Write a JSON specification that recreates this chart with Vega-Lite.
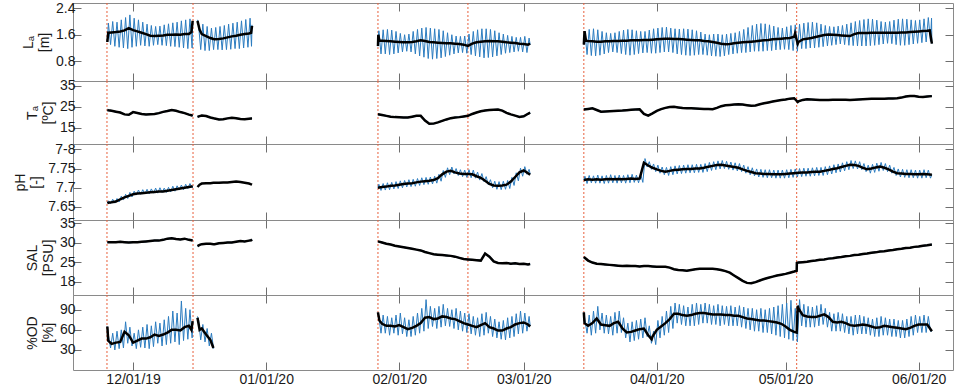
{
"$schema":"https://vega.github.io/schema/vega-lite/v6.json",
"padding":{"left":13,"top":0,"right":2,"bottom":5},
"spacing":0,
"bounds":"flush",
"config":{
 "font":"Liberation Sans",
 "view":{"stroke":"#8a8a8a","strokeWidth":1},
 "mark":{"invalid":"filter"},
 "axis":{"domain":false,"grid":false,"tickColor":"#6e6e6e","tickSize":-8,"labelFont":"Liberation Sans","labelFontSize":14,"labelColor":"#1a1a1a","labelPadding":6,"titleFont":"Liberation Sans","titleFontSize":14,"titleFontWeight":"normal","titleColor":"#1a1a1a"}
},
"datasets":{
"ev":[{"t":"2019-11-24T22:00"},{"t":"2019-12-14T23:00"},{"t":"2020-01-27T01:00"},{"t":"2020-02-17T00:00"},{"t":"2020-03-15T00:00"},{"t":"2020-05-03T14:00"}],
"sm":[
{"t":"2019-11-25T00:00","s":"A","L":1.38,"T":23.4,"p":7.660,"S":30.1,"O":65},
{"t":"2019-11-25T05:00","s":"A","L":1.66,"T":23.3,"p":7.661,"S":30.1,"O":44},
{"t":"2019-11-26T00:00","s":"A","L":1.67,"T":23.0,"p":7.662,"S":30.1,"O":39},
{"t":"2019-11-27T00:00","s":"A","L":1.68,"T":22.6,"p":7.664,"S":30.1,"O":41},
{"t":"2019-11-28T00:00","s":"A","L":1.70,"T":22.2,"p":7.670,"S":30.2,"O":42},
{"t":"2019-11-29T00:00","s":"A","L":1.73,"T":21.3,"p":7.675,"S":30.1,"O":57},
{"t":"2019-11-30T00:00","s":"A","L":1.80,"T":21.1,"p":7.679,"S":30.0,"O":52},
{"t":"2019-12-01T00:00","s":"A","L":1.74,"T":22.4,"p":7.683,"S":30.1,"O":41},
{"t":"2019-12-02T00:00","s":"A","L":1.70,"T":22.0,"p":7.685,"S":30.1,"O":44},
{"t":"2019-12-03T00:00","s":"A","L":1.66,"T":21.5,"p":7.686,"S":30.2,"O":47},
{"t":"2019-12-04T00:00","s":"A","L":1.62,"T":21.3,"p":7.687,"S":30.3,"O":47},
{"t":"2019-12-05T00:00","s":"A","L":1.57,"T":21.4,"p":7.688,"S":30.4,"O":49},
{"t":"2019-12-06T00:00","s":"A","L":1.56,"T":21.5,"p":7.689,"S":30.5,"O":53},
{"t":"2019-12-07T00:00","s":"A","L":1.57,"T":21.9,"p":7.690,"S":30.5,"O":51},
{"t":"2019-12-08T00:00","s":"A","L":1.58,"T":22.5,"p":7.690,"S":30.7,"O":53},
{"t":"2019-12-09T00:00","s":"A","L":1.60,"T":22.9,"p":7.692,"S":31.0,"O":56},
{"t":"2019-12-10T00:00","s":"A","L":1.60,"T":23.4,"p":7.694,"S":31.1,"O":60},
{"t":"2019-12-11T00:00","s":"A","L":1.61,"T":23.0,"p":7.696,"S":30.9,"O":60},
{"t":"2019-12-12T00:00","s":"A","L":1.60,"T":22.4,"p":7.698,"S":30.8,"O":59},
{"t":"2019-12-13T00:00","s":"A","L":1.62,"T":21.9,"p":7.700,"S":31.0,"O":64},
{"t":"2019-12-14T00:00","s":"A","L":1.62,"T":21.2,"p":7.702,"S":30.7,"O":66},
{"t":"2019-12-14T14:00","s":"A","L":1.68,"T":20.9,"p":7.703,"S":30.6,"O":60},
{"t":"2019-12-14T21:00","s":"A","L":2.02,"T":20.6,"p":7.704,"S":30.5,"O":73},
{"t":"2019-12-16T00:00","s":"B","L":2.02,"T":20.1,"p":7.702,"S":29.1,"O":78},
{"t":"2019-12-16T12:00","s":"B","L":1.75,"T":20.5,"p":7.708,"S":29.4,"O":60},
{"t":"2019-12-17T00:00","s":"B","L":1.62,"T":20.8,"p":7.711,"S":29.6,"O":62},
{"t":"2019-12-18T00:00","s":"B","L":1.56,"T":20.5,"p":7.712,"S":29.7,"O":53},
{"t":"2019-12-19T00:00","s":"B","L":1.50,"T":19.8,"p":7.712,"S":29.7,"O":45},
{"t":"2019-12-19T17:00","s":"B","L":1.47,"T":19.5,"p":7.713,"S":29.6,"O":33},
{"t":"2019-12-20T00:00","s":"B","L":1.46,"T":19.3,"p":7.713,"S":29.6},
{"t":"2019-12-21T00:00","s":"B","L":1.47,"T":18.9,"p":7.713,"S":29.8},
{"t":"2019-12-22T00:00","s":"B","L":1.49,"T":19.0,"p":7.714,"S":29.9},
{"t":"2019-12-23T00:00","s":"B","L":1.52,"T":19.4,"p":7.714,"S":30.0},
{"t":"2019-12-24T00:00","s":"B","L":1.55,"T":19.7,"p":7.715,"S":30.0},
{"t":"2019-12-25T00:00","s":"B","L":1.57,"T":19.5,"p":7.716,"S":30.2},
{"t":"2019-12-26T00:00","s":"B","L":1.60,"T":19.1,"p":7.715,"S":30.4},
{"t":"2019-12-27T00:00","s":"B","L":1.62,"T":19.0,"p":7.713,"S":30.3},
{"t":"2019-12-28T00:00","s":"B","L":1.64,"T":19.2,"p":7.711,"S":30.5},
{"t":"2019-12-28T12:00","s":"B","L":1.66,"T":19.3,"p":7.709,"S":30.6},
{"t":"2019-12-28T17:00","s":"B","L":1.87,"T":19.3,"p":7.708,"S":30.8},
{"t":"2020-01-27T01:00","s":"C","L":1.26,"T":21.4,"p":7.700,"S":30.3,"O":86},
{"t":"2020-01-27T03:00","s":"C","L":1.60},
{"t":"2020-01-27T09:00","s":"C","L":1.42,"O":74},
{"t":"2020-01-28T00:00","s":"C","L":1.42,"T":21.0,"p":7.702,"S":30.0,"O":69},
{"t":"2020-01-29T00:00","s":"C","L":1.41,"T":20.6,"p":7.703,"S":29.7,"O":66},
{"t":"2020-01-30T00:00","s":"C","L":1.40,"T":20.2,"p":7.705,"S":29.5,"O":66},
{"t":"2020-01-31T00:00","s":"C","L":1.39,"T":20.0,"p":7.706,"S":29.2,"O":65},
{"t":"2020-02-01T00:00","s":"C","L":1.38,"T":19.9,"p":7.708,"S":29.0,"O":67},
{"t":"2020-02-02T00:00","s":"C","L":1.37,"T":19.8,"p":7.710,"S":28.8,"O":64},
{"t":"2020-02-03T00:00","s":"C","L":1.37,"T":19.8,"p":7.711,"S":28.6,"O":61},
{"t":"2020-02-04T00:00","s":"C","L":1.38,"T":20.2,"p":7.712,"S":28.4,"O":63},
{"t":"2020-02-05T00:00","s":"C","L":1.40,"T":20.6,"p":7.714,"S":28.2,"O":66},
{"t":"2020-02-06T00:00","s":"C","L":1.43,"T":20.6,"p":7.716,"S":28.0,"O":70},
{"t":"2020-02-07T00:00","s":"C","L":1.41,"T":18.4,"p":7.717,"S":27.6,"O":78},
{"t":"2020-02-08T00:00","s":"C","L":1.38,"T":16.8,"p":7.718,"S":27.3,"O":79},
{"t":"2020-02-09T00:00","s":"C","L":1.37,"T":16.9,"p":7.720,"S":27.0,"O":76},
{"t":"2020-02-10T00:00","s":"C","L":1.36,"T":17.5,"p":7.725,"S":26.9,"O":77},
{"t":"2020-02-11T00:00","s":"C","L":1.35,"T":18.2,"p":7.735,"S":26.8,"O":80},
{"t":"2020-02-12T00:00","s":"C","L":1.34,"T":18.9,"p":7.742,"S":26.7,"O":79},
{"t":"2020-02-13T00:00","s":"C","L":1.34,"T":19.5,"p":7.744,"S":26.6,"O":77},
{"t":"2020-02-14T00:00","s":"C","L":1.33,"T":19.8,"p":7.740,"S":26.4,"O":76},
{"t":"2020-02-15T00:00","s":"C","L":1.32,"T":20.0,"p":7.737,"S":26.1,"O":73},
{"t":"2020-02-16T00:00","s":"C","L":1.30,"T":20.3,"p":7.736,"S":25.8,"O":70},
{"t":"2020-02-17T00:00","s":"C","L":1.26,"T":20.6,"p":7.736,"S":25.7,"O":68},
{"t":"2020-02-18T00:00","s":"C","L":1.33,"T":21.5,"p":7.735,"S":25.6,"O":66},
{"t":"2020-02-19T00:00","s":"C","L":1.37,"T":22.2,"p":7.730,"S":25.5,"O":64},
{"t":"2020-02-20T00:00","s":"C","L":1.39,"T":22.8,"p":7.726,"S":25.4,"O":67},
{"t":"2020-02-21T00:00","s":"C","L":1.40,"T":23.2,"p":7.718,"S":27.2,"O":70},
{"t":"2020-02-22T00:00","s":"C","L":1.41,"T":23.4,"p":7.710,"S":26.4,"O":64},
{"t":"2020-02-23T00:00","s":"C","L":1.40,"T":23.5,"p":7.706,"S":25.2,"O":62},
{"t":"2020-02-24T00:00","s":"C","L":1.40,"T":23.6,"p":7.705,"S":24.8,"O":59},
{"t":"2020-02-25T00:00","s":"C","L":1.39,"T":23.1,"p":7.706,"S":24.7,"O":59},
{"t":"2020-02-26T00:00","s":"C","L":1.37,"T":22.0,"p":7.708,"S":24.8,"O":62},
{"t":"2020-02-27T00:00","s":"C","L":1.36,"T":21.3,"p":7.716,"S":24.6,"O":64},
{"t":"2020-02-28T00:00","s":"C","L":1.35,"T":20.7,"p":7.728,"S":24.7,"O":68},
{"t":"2020-02-29T00:00","s":"C","L":1.33,"T":20.1,"p":7.740,"S":24.5,"O":70},
{"t":"2020-03-01T00:00","s":"C","L":1.32,"T":20.4,"p":7.745,"S":24.6,"O":71},
{"t":"2020-03-02T00:00","s":"C","L":1.30,"T":21.6,"p":7.738,"S":24.4,"O":68},
{"t":"2020-03-02T12:00","s":"C","L":1.33,"T":22.1,"p":7.734,"S":24.5,"O":65},
{"t":"2020-03-15T00:00","s":"D","L":1.30,"T":23.6,"p":7.720,"S":26.3,"O":86},
{"t":"2020-03-15T04:00","s":"D","L":1.71,"O":70},
{"t":"2020-03-15T12:00","s":"D","L":1.42},
{"t":"2020-03-16T00:00","s":"D","L":1.41,"T":23.9,"p":7.722,"S":25.4,"O":66},
{"t":"2020-03-17T00:00","s":"D","L":1.40,"T":24.2,"p":7.721,"S":24.9,"O":70},
{"t":"2020-03-18T00:00","s":"D","L":1.39,"T":23.4,"p":7.722,"S":24.6,"O":77},
{"t":"2020-03-19T00:00","s":"D","L":1.39,"T":22.6,"p":7.721,"S":24.5,"O":68},
{"t":"2020-03-20T00:00","s":"D","L":1.40,"T":22.7,"p":7.722,"S":24.4,"O":67},
{"t":"2020-03-21T00:00","s":"D","L":1.40,"T":22.8,"p":7.723,"S":24.3,"O":66},
{"t":"2020-03-22T00:00","s":"D","L":1.41,"T":22.9,"p":7.722,"S":24.2,"O":70},
{"t":"2020-03-23T00:00","s":"D","L":1.41,"T":23.0,"p":7.723,"S":24.1,"O":72},
{"t":"2020-03-24T00:00","s":"D","L":1.42,"T":23.1,"p":7.722,"S":24.0,"O":62},
{"t":"2020-03-25T00:00","s":"D","L":1.42,"T":23.3,"p":7.723,"S":24.1,"O":56},
{"t":"2020-03-26T00:00","s":"D","L":1.43,"T":23.5,"p":7.724,"S":24.0,"O":57},
{"t":"2020-03-27T00:00","s":"D","L":1.43,"T":23.6,"p":7.723,"S":24.0,"O":59},
{"t":"2020-03-28T00:00","s":"D","L":1.43,"T":23.7,"p":7.724,"S":23.9,"O":61},
{"t":"2020-03-29T00:00","s":"D","L":1.44,"T":21.5,"p":7.765,"S":24.0,"O":62},
{"t":"2020-03-30T00:00","s":"D","L":1.44,"T":20.7,"p":7.758,"S":24.0,"O":52},
{"t":"2020-03-30T19:00","s":"D","O":46},
{"t":"2020-03-31T00:00","s":"D","L":1.45,"T":21.8,"p":7.752,"S":23.9,"O":50},
{"t":"2020-04-01T00:00","s":"D","L":1.46,"T":23.0,"p":7.748,"S":23.8,"O":60},
{"t":"2020-04-02T00:00","s":"D","L":1.47,"T":23.8,"p":7.744,"S":23.8,"O":65},
{"t":"2020-04-03T00:00","s":"D","L":1.48,"T":24.4,"p":7.742,"S":23.8,"O":70},
{"t":"2020-04-04T00:00","s":"D","L":1.48,"T":24.8,"p":7.744,"S":23.6,"O":76},
{"t":"2020-04-05T00:00","s":"D","L":1.47,"T":24.9,"p":7.746,"S":23.2,"O":84},
{"t":"2020-04-06T00:00","s":"D","L":1.47,"T":24.6,"p":7.747,"S":23.0,"O":84},
{"t":"2020-04-07T00:00","s":"D","L":1.46,"T":24.3,"p":7.748,"S":22.9,"O":82},
{"t":"2020-04-08T00:00","s":"D","L":1.45,"T":24.2,"p":7.749,"S":22.8,"O":81},
{"t":"2020-04-09T00:00","s":"D","L":1.44,"T":24.2,"p":7.749,"S":23.0,"O":82},
{"t":"2020-04-10T00:00","s":"D","L":1.43,"T":24.1,"p":7.750,"S":23.2,"O":84},
{"t":"2020-04-11T00:00","s":"D","L":1.43,"T":24.0,"p":7.750,"S":23.3,"O":85},
{"t":"2020-04-12T00:00","s":"D","L":1.41,"T":23.9,"p":7.752,"S":23.3,"O":85},
{"t":"2020-04-13T00:00","s":"D","L":1.40,"T":23.9,"p":7.755,"S":23.3,"O":84},
{"t":"2020-04-14T00:00","s":"D","L":1.38,"T":23.8,"p":7.757,"S":23.3,"O":83},
{"t":"2020-04-15T00:00","s":"D","L":1.36,"T":24.4,"p":7.759,"S":23.2,"O":83},
{"t":"2020-04-16T00:00","s":"D","L":1.33,"T":25.2,"p":7.760,"S":23.0,"O":83},
{"t":"2020-04-17T00:00","s":"D","L":1.31,"T":25.6,"p":7.758,"S":22.7,"O":82},
{"t":"2020-04-18T00:00","s":"D","L":1.32,"T":25.8,"p":7.756,"S":22.3,"O":82},
{"t":"2020-04-19T00:00","s":"D","L":1.34,"T":26.0,"p":7.754,"S":21.6,"O":81},
{"t":"2020-04-20T00:00","s":"D","L":1.36,"T":26.1,"p":7.752,"S":20.9,"O":81},
{"t":"2020-04-21T00:00","s":"D","L":1.37,"T":26.0,"p":7.748,"S":20.2,"O":79},
{"t":"2020-04-22T00:00","s":"D","L":1.38,"T":25.7,"p":7.744,"S":19.7,"O":77},
{"t":"2020-04-23T00:00","s":"D","L":1.39,"T":25.4,"p":7.741,"S":19.6,"O":76},
{"t":"2020-04-24T00:00","s":"D","L":1.40,"T":25.5,"p":7.738,"S":19.9,"O":75},
{"t":"2020-04-25T00:00","s":"D","L":1.42,"T":26.1,"p":7.737,"S":20.3,"O":74},
{"t":"2020-04-26T00:00","s":"D","L":1.43,"T":26.6,"p":7.736,"S":20.7,"O":74},
{"t":"2020-04-27T00:00","s":"D","L":1.44,"T":27.0,"p":7.736,"S":21.0,"O":73},
{"t":"2020-04-28T00:00","s":"D","L":1.46,"T":27.4,"p":7.735,"S":21.3,"O":72},
{"t":"2020-04-29T00:00","s":"D","L":1.47,"T":27.8,"p":7.735,"S":21.6,"O":71},
{"t":"2020-04-30T00:00","s":"D","L":1.48,"T":28.1,"p":7.735,"S":21.8,"O":69},
{"t":"2020-05-01T00:00","s":"D","L":1.49,"T":28.4,"p":7.736,"S":22.0,"O":65},
{"t":"2020-05-02T00:00","s":"D","L":1.50,"T":28.8,"p":7.737,"S":22.3,"O":60},
{"t":"2020-05-03T00:00","s":"D","L":1.54,"T":29.0,"p":7.738,"S":22.6,"O":57},
{"t":"2020-05-03T05:00","s":"D","L":1.64},
{"t":"2020-05-03T14:00","s":"D","L":1.45,"S":22.8,"O":56},
{"t":"2020-05-03T15:00","s":"D","S":24.8},
{"t":"2020-05-03T20:00","s":"D","L":1.33,"T":27.2,"O":96},
{"t":"2020-05-04T00:00","s":"D","L":1.38,"T":27.5,"p":7.739,"S":24.9,"O":92},
{"t":"2020-05-05T00:00","s":"D","L":1.46,"T":28.2,"p":7.740,"S":25.0,"O":82},
{"t":"2020-05-06T00:00","s":"D","L":1.48,"T":28.5,"p":7.740,"S":25.1,"O":80},
{"t":"2020-05-07T00:00","s":"D","L":1.50,"T":28.4,"p":7.741,"S":25.3,"O":79},
{"t":"2020-05-08T00:00","s":"D","L":1.53,"T":28.3,"p":7.742,"S":25.4,"O":79},
{"t":"2020-05-09T00:00","s":"D","L":1.56,"T":28.2,"p":7.742,"S":25.6,"O":81},
{"t":"2020-05-10T00:00","s":"D","L":1.59,"T":28.2,"p":7.744,"S":25.7,"O":83},
{"t":"2020-05-11T00:00","s":"D","L":1.61,"T":28.2,"p":7.746,"S":25.9,"O":79},
{"t":"2020-05-12T00:00","s":"D","L":1.60,"T":28.3,"p":7.749,"S":26.0,"O":72},
{"t":"2020-05-13T00:00","s":"D","L":1.59,"T":28.3,"p":7.751,"S":26.2,"O":71},
{"t":"2020-05-14T00:00","s":"D","L":1.58,"T":28.3,"p":7.754,"S":26.3,"O":72},
{"t":"2020-05-15T00:00","s":"D","L":1.57,"T":28.3,"p":7.757,"S":26.5,"O":70},
{"t":"2020-05-16T00:00","s":"D","L":1.56,"T":28.2,"p":7.760,"S":26.6,"O":67},
{"t":"2020-05-17T00:00","s":"D","L":1.62,"T":28.3,"p":7.759,"S":26.8,"O":66},
{"t":"2020-05-18T00:00","s":"D","L":1.65,"T":28.4,"p":7.757,"S":26.9,"O":67},
{"t":"2020-05-19T00:00","s":"D","L":1.65,"T":28.5,"p":7.752,"S":27.1,"O":68},
{"t":"2020-05-20T00:00","s":"D","L":1.65,"T":28.6,"p":7.748,"S":27.2,"O":67},
{"t":"2020-05-21T00:00","s":"D","L":1.66,"T":28.7,"p":7.750,"S":27.4,"O":65},
{"t":"2020-05-22T00:00","s":"D","L":1.66,"T":28.7,"p":7.753,"S":27.5,"O":63},
{"t":"2020-05-23T00:00","s":"D","L":1.66,"T":28.8,"p":7.755,"S":27.7,"O":64},
{"t":"2020-05-24T00:00","s":"D","L":1.66,"T":28.8,"p":7.752,"S":27.8,"O":66},
{"t":"2020-05-25T00:00","s":"D","L":1.66,"T":28.9,"p":7.748,"S":28.0,"O":65},
{"t":"2020-05-26T00:00","s":"D","L":1.66,"T":28.9,"p":7.742,"S":28.1,"O":64},
{"t":"2020-05-27T00:00","s":"D","L":1.66,"T":29.0,"p":7.738,"S":28.3,"O":63},
{"t":"2020-05-28T00:00","s":"D","L":1.67,"T":29.3,"p":7.737,"S":28.4,"O":62},
{"t":"2020-05-29T00:00","s":"D","L":1.67,"T":29.8,"p":7.736,"S":28.6,"O":61},
{"t":"2020-05-30T00:00","s":"D","L":1.68,"T":30.1,"p":7.736,"S":28.7,"O":63},
{"t":"2020-05-31T00:00","s":"D","L":1.69,"T":30.0,"p":7.735,"S":28.9,"O":66},
{"t":"2020-06-01T00:00","s":"D","L":1.70,"T":29.7,"p":7.735,"S":29.0,"O":68},
{"t":"2020-06-02T00:00","s":"D","L":1.71,"T":29.6,"p":7.736,"S":29.2,"O":68},
{"t":"2020-06-03T00:00","s":"D","L":1.72,"T":29.8,"p":7.735,"S":29.3,"O":68},
{"t":"2020-06-03T14:00","s":"D","L":1.73},
{"t":"2020-06-04T02:00","s":"D","L":1.33,"T":30.0,"p":7.734,"S":29.5,"O":58}
],
"raw":[
{"t":"2019-11-25T00:00","s":"A","L":1.40,"p":7.660,"O":65},
{"t":"2019-11-25T06:00","s":"A","L":1.95,"p":7.666,"O":52},{"t":"2019-11-25T18:00","s":"A","L":1.30,"p":7.659,"O":33},
{"t":"2019-11-26T06:00","s":"A","L":2.00,"p":7.670,"O":55},{"t":"2019-11-26T18:00","s":"A","L":1.25,"p":7.660,"O":30},
{"t":"2019-11-27T06:00","s":"A","L":1.98,"p":7.672,"O":58},{"t":"2019-11-27T18:00","s":"A","L":1.22,"p":7.663,"O":32},
{"t":"2019-11-28T06:00","s":"A","L":2.05,"p":7.678,"O":60},{"t":"2019-11-28T18:00","s":"A","L":1.20,"p":7.668,"O":33},
{"t":"2019-11-29T06:00","s":"A","L":2.12,"p":7.683,"O":72},{"t":"2019-11-29T18:00","s":"A","L":1.18,"p":7.672,"O":40},
{"t":"2019-11-30T06:00","s":"A","L":2.20,"p":7.688,"O":64},{"t":"2019-11-30T18:00","s":"A","L":1.22,"p":7.676,"O":36},
{"t":"2019-12-01T06:00","s":"A","L":2.10,"p":7.691,"O":55},{"t":"2019-12-01T18:00","s":"A","L":1.25,"p":7.681,"O":32},
{"t":"2019-12-02T06:00","s":"A","L":2.05,"p":7.694,"O":60},{"t":"2019-12-02T18:00","s":"A","L":1.28,"p":7.683,"O":34},
{"t":"2019-12-03T06:00","s":"A","L":1.98,"p":7.695,"O":64},{"t":"2019-12-03T18:00","s":"A","L":1.26,"p":7.684,"O":33},
{"t":"2019-12-04T06:00","s":"A","L":1.92,"p":7.696,"O":68},{"t":"2019-12-04T18:00","s":"A","L":1.25,"p":7.684,"O":32},
{"t":"2019-12-05T06:00","s":"A","L":1.88,"p":7.697,"O":66},{"t":"2019-12-05T18:00","s":"A","L":1.28,"p":7.686,"O":35},
{"t":"2019-12-06T06:00","s":"A","L":1.85,"p":7.699,"O":72},{"t":"2019-12-06T18:00","s":"A","L":1.30,"p":7.686,"O":40},
{"t":"2019-12-07T06:00","s":"A","L":1.86,"p":7.700,"O":70},{"t":"2019-12-07T18:00","s":"A","L":1.28,"p":7.688,"O":36},
{"t":"2019-12-08T06:00","s":"A","L":1.90,"p":7.699,"O":75},{"t":"2019-12-08T18:00","s":"A","L":1.27,"p":7.688,"O":38},
{"t":"2019-12-09T06:00","s":"A","L":1.93,"p":7.701,"O":80},{"t":"2019-12-09T18:00","s":"A","L":1.25,"p":7.689,"O":40},
{"t":"2019-12-10T06:00","s":"A","L":1.96,"p":7.704,"O":88},{"t":"2019-12-10T18:00","s":"A","L":1.24,"p":7.691,"O":42},
{"t":"2019-12-11T06:00","s":"A","L":1.98,"p":7.705,"O":85},{"t":"2019-12-11T18:00","s":"A","L":1.22,"p":7.694,"O":38},
{"t":"2019-12-12T06:00","s":"A","L":2.02,"p":7.707,"O":103},{"t":"2019-12-12T18:00","s":"A","L":1.20,"p":7.695,"O":44},
{"t":"2019-12-13T06:00","s":"A","L":2.05,"p":7.709,"O":92},{"t":"2019-12-13T18:00","s":"A","L":1.18,"p":7.698,"O":46},
{"t":"2019-12-14T06:00","s":"A","L":2.08,"p":7.711,"O":90},{"t":"2019-12-14T18:00","s":"A","L":1.20,"p":7.700,"O":48},
{"t":"2019-12-14T21:00","s":"A","L":2.00,"p":7.705,"O":72},
{"t":"2019-12-16T00:00","s":"B","L":2.05,"O":80},
{"t":"2019-12-16T06:00","s":"B","L":1.90,"O":75},{"t":"2019-12-16T18:00","s":"B","L":1.15,"O":45},
{"t":"2019-12-17T06:00","s":"B","L":1.92,"O":68},{"t":"2019-12-17T18:00","s":"B","L":1.12,"O":42},
{"t":"2019-12-18T06:00","s":"B","L":1.85,"O":62},{"t":"2019-12-18T18:00","s":"B","L":1.12,"O":36},
{"t":"2019-12-19T06:00","s":"B","L":1.80,"O":55},{"t":"2019-12-19T18:00","s":"B","L":1.15,"O":32},
{"t":"2019-12-20T06:00","s":"B","L":1.82},{"t":"2019-12-20T18:00","s":"B","L":1.15},
{"t":"2019-12-21T06:00","s":"B","L":1.85},{"t":"2019-12-21T18:00","s":"B","L":1.14},
{"t":"2019-12-22T06:00","s":"B","L":1.88},{"t":"2019-12-22T18:00","s":"B","L":1.15},
{"t":"2019-12-23T06:00","s":"B","L":1.92},{"t":"2019-12-23T18:00","s":"B","L":1.16},
{"t":"2019-12-24T06:00","s":"B","L":1.95},{"t":"2019-12-24T18:00","s":"B","L":1.18},
{"t":"2019-12-25T06:00","s":"B","L":1.98},{"t":"2019-12-25T18:00","s":"B","L":1.18},
{"t":"2019-12-26T06:00","s":"B","L":2.02},{"t":"2019-12-26T18:00","s":"B","L":1.20},
{"t":"2019-12-27T06:00","s":"B","L":2.06},{"t":"2019-12-27T18:00","s":"B","L":1.22},
{"t":"2019-12-28T06:00","s":"B","L":2.10},{"t":"2019-12-28T14:00","s":"B","L":1.25},{"t":"2019-12-28T17:00","s":"B","L":1.90},
{"t":"2020-01-27T01:00","s":"C","L":1.25,"p":7.700,"O":86},
{"t":"2020-01-27T06:00","s":"C","L":1.72,"p":7.709,"O":80},{"t":"2020-01-27T18:00","s":"C","L":1.02,"p":7.693,"O":55},
{"t":"2020-01-28T06:00","s":"C","L":1.75,"p":7.711,"O":82},{"t":"2020-01-28T18:00","s":"C","L":1.02,"p":7.694,"O":55},
{"t":"2020-01-29T06:00","s":"C","L":1.76,"p":7.713,"O":80},{"t":"2020-01-29T18:00","s":"C","L":1.00,"p":7.695,"O":52},
{"t":"2020-01-30T06:00","s":"C","L":1.74,"p":7.714,"O":78},{"t":"2020-01-30T18:00","s":"C","L":1.02,"p":7.697,"O":55},
{"t":"2020-01-31T06:00","s":"C","L":1.70,"p":7.716,"O":82},{"t":"2020-01-31T18:00","s":"C","L":1.05,"p":7.698,"O":52},
{"t":"2020-02-01T06:00","s":"C","L":1.64,"p":7.718,"O":85},{"t":"2020-02-01T18:00","s":"C","L":1.08,"p":7.700,"O":54},
{"t":"2020-02-02T06:00","s":"C","L":1.60,"p":7.719,"O":78},{"t":"2020-02-02T18:00","s":"C","L":1.10,"p":7.702,"O":50},
{"t":"2020-02-03T06:00","s":"C","L":1.62,"p":7.721,"O":75},{"t":"2020-02-03T18:00","s":"C","L":1.08,"p":7.703,"O":50},
{"t":"2020-02-04T06:00","s":"C","L":1.70,"p":7.722,"O":80},{"t":"2020-02-04T18:00","s":"C","L":1.02,"p":7.704,"O":52},
{"t":"2020-02-05T06:00","s":"C","L":1.76,"p":7.724,"O":85},{"t":"2020-02-05T18:00","s":"C","L":0.96,"p":7.706,"O":55},
{"t":"2020-02-06T06:00","s":"C","L":1.80,"p":7.726,"O":92},{"t":"2020-02-06T18:00","s":"C","L":0.92,"p":7.708,"O":58},
{"t":"2020-02-07T06:00","s":"C","L":1.82,"p":7.727,"O":105},{"t":"2020-02-07T18:00","s":"C","L":0.88,"p":7.709,"O":62},
{"t":"2020-02-08T06:00","s":"C","L":1.80,"p":7.728,"O":95},{"t":"2020-02-08T18:00","s":"C","L":0.86,"p":7.710,"O":65},
{"t":"2020-02-09T06:00","s":"C","L":1.78,"p":7.730,"O":92},{"t":"2020-02-09T18:00","s":"C","L":0.88,"p":7.712,"O":62},
{"t":"2020-02-10T06:00","s":"C","L":1.76,"p":7.735,"O":95},{"t":"2020-02-10T18:00","s":"C","L":0.90,"p":7.717,"O":64},
{"t":"2020-02-11T06:00","s":"C","L":1.72,"p":7.745,"O":98},{"t":"2020-02-11T18:00","s":"C","L":0.94,"p":7.727,"O":66},
{"t":"2020-02-12T06:00","s":"C","L":1.66,"p":7.752,"O":92},{"t":"2020-02-12T18:00","s":"C","L":0.98,"p":7.734,"O":65},
{"t":"2020-02-13T06:00","s":"C","L":1.60,"p":7.754,"O":90},{"t":"2020-02-13T18:00","s":"C","L":1.02,"p":7.736,"O":62},
{"t":"2020-02-14T06:00","s":"C","L":1.56,"p":7.750,"O":92},{"t":"2020-02-14T18:00","s":"C","L":1.05,"p":7.732,"O":60},
{"t":"2020-02-15T06:00","s":"C","L":1.55,"p":7.747,"O":88},{"t":"2020-02-15T18:00","s":"C","L":1.06,"p":7.729,"O":58},
{"t":"2020-02-16T06:00","s":"C","L":1.56,"p":7.746,"O":85},{"t":"2020-02-16T18:00","s":"C","L":1.04,"p":7.727,"O":56},
{"t":"2020-02-17T06:00","s":"C","L":1.62,"p":7.747,"O":84},{"t":"2020-02-17T18:00","s":"C","L":1.00,"p":7.726,"O":54},
{"t":"2020-02-18T06:00","s":"C","L":1.70,"p":7.746,"O":80},{"t":"2020-02-18T18:00","s":"C","L":0.96,"p":7.725,"O":52},
{"t":"2020-02-19T06:00","s":"C","L":1.75,"p":7.741,"O":78},{"t":"2020-02-19T18:00","s":"C","L":0.93,"p":7.720,"O":50},
{"t":"2020-02-20T06:00","s":"C","L":1.78,"p":7.737,"O":84},{"t":"2020-02-20T18:00","s":"C","L":0.90,"p":7.716,"O":52},
{"t":"2020-02-21T06:00","s":"C","L":1.78,"p":7.729,"O":86},{"t":"2020-02-21T18:00","s":"C","L":0.91,"p":7.708,"O":55},
{"t":"2020-02-22T06:00","s":"C","L":1.76,"p":7.721,"O":80},{"t":"2020-02-22T18:00","s":"C","L":0.93,"p":7.700,"O":50},
{"t":"2020-02-23T06:00","s":"C","L":1.72,"p":7.717,"O":76},{"t":"2020-02-23T18:00","s":"C","L":0.96,"p":7.696,"O":48},
{"t":"2020-02-24T06:00","s":"C","L":1.66,"p":7.716,"O":72},{"t":"2020-02-24T18:00","s":"C","L":1.00,"p":7.695,"O":46},
{"t":"2020-02-25T06:00","s":"C","L":1.62,"p":7.717,"O":74},{"t":"2020-02-25T18:00","s":"C","L":1.04,"p":7.696,"O":45},
{"t":"2020-02-26T06:00","s":"C","L":1.58,"p":7.719,"O":78},{"t":"2020-02-26T18:00","s":"C","L":1.06,"p":7.698,"O":48},
{"t":"2020-02-27T06:00","s":"C","L":1.55,"p":7.727,"O":80},{"t":"2020-02-27T18:00","s":"C","L":1.08,"p":7.706,"O":50},
{"t":"2020-02-28T06:00","s":"C","L":1.52,"p":7.739,"O":84},{"t":"2020-02-28T18:00","s":"C","L":1.10,"p":7.718,"O":54},
{"t":"2020-02-29T06:00","s":"C","L":1.52,"p":7.751,"O":88},{"t":"2020-02-29T18:00","s":"C","L":1.08,"p":7.730,"O":55},
{"t":"2020-03-01T06:00","s":"C","L":1.55,"p":7.755,"O":85},{"t":"2020-03-01T18:00","s":"C","L":1.06,"p":7.735,"O":58},
{"t":"2020-03-02T06:00","s":"C","L":1.50,"p":7.748,"O":80},{"t":"2020-03-02T12:00","s":"C","L":1.30,"p":7.736,"O":66},
{"t":"2020-03-15T00:00","s":"D","L":1.30,"p":7.720,"O":86},
{"t":"2020-03-15T06:00","s":"D","L":1.70,"p":7.730,"O":75},{"t":"2020-03-15T18:00","s":"D","L":1.00,"p":7.711,"O":55},
{"t":"2020-03-16T06:00","s":"D","L":1.76,"p":7.732,"O":82},{"t":"2020-03-16T18:00","s":"D","L":0.97,"p":7.713,"O":52},
{"t":"2020-03-17T06:00","s":"D","L":1.78,"p":7.731,"O":88},{"t":"2020-03-17T18:00","s":"D","L":0.96,"p":7.712,"O":55},
{"t":"2020-03-18T06:00","s":"D","L":1.75,"p":7.733,"O":95},{"t":"2020-03-18T18:00","s":"D","L":0.98,"p":7.712,"O":60},
{"t":"2020-03-19T06:00","s":"D","L":1.70,"p":7.731,"O":85},{"t":"2020-03-19T18:00","s":"D","L":1.02,"p":7.711,"O":55},
{"t":"2020-03-20T06:00","s":"D","L":1.66,"p":7.732,"O":82},{"t":"2020-03-20T18:00","s":"D","L":1.06,"p":7.712,"O":54},
{"t":"2020-03-21T06:00","s":"D","L":1.64,"p":7.734,"O":80},{"t":"2020-03-21T18:00","s":"D","L":1.08,"p":7.713,"O":52},
{"t":"2020-03-22T06:00","s":"D","L":1.66,"p":7.732,"O":86},{"t":"2020-03-22T18:00","s":"D","L":1.06,"p":7.712,"O":55},
{"t":"2020-03-23T06:00","s":"D","L":1.70,"p":7.733,"O":88},{"t":"2020-03-23T18:00","s":"D","L":1.03,"p":7.713,"O":56},
{"t":"2020-03-24T06:00","s":"D","L":1.74,"p":7.732,"O":78},{"t":"2020-03-24T18:00","s":"D","L":1.00,"p":7.712,"O":48},
{"t":"2020-03-25T06:00","s":"D","L":1.76,"p":7.734,"O":70},{"t":"2020-03-25T18:00","s":"D","L":0.98,"p":7.713,"O":42},
{"t":"2020-03-26T06:00","s":"D","L":1.75,"p":7.735,"O":72},{"t":"2020-03-26T18:00","s":"D","L":1.00,"p":7.714,"O":44},
{"t":"2020-03-27T06:00","s":"D","L":1.72,"p":7.733,"O":74},{"t":"2020-03-27T18:00","s":"D","L":1.03,"p":7.713,"O":46},
{"t":"2020-03-28T06:00","s":"D","L":1.70,"p":7.735,"O":76},{"t":"2020-03-28T18:00","s":"D","L":1.05,"p":7.714,"O":48},
{"t":"2020-03-29T06:00","s":"D","L":1.70,"p":7.776,"O":78},{"t":"2020-03-29T18:00","s":"D","L":1.06,"p":7.754,"O":50},
{"t":"2020-03-30T06:00","s":"D","L":1.74,"p":7.768,"O":66},{"t":"2020-03-30T18:00","s":"D","L":1.04,"p":7.748,"O":40},
{"t":"2020-03-31T06:00","s":"D","L":1.78,"p":7.762,"O":58},{"t":"2020-03-31T18:00","s":"D","L":1.04,"p":7.742,"O":38},
{"t":"2020-04-01T06:00","s":"D","L":1.80,"p":7.759,"O":74},{"t":"2020-04-01T18:00","s":"D","L":1.06,"p":7.738,"O":48},
{"t":"2020-04-02T06:00","s":"D","L":1.82,"p":7.754,"O":80},{"t":"2020-04-02T18:00","s":"D","L":1.08,"p":7.734,"O":52},
{"t":"2020-04-03T06:00","s":"D","L":1.83,"p":7.753,"O":88},{"t":"2020-04-03T18:00","s":"D","L":1.08,"p":7.732,"O":56},
{"t":"2020-04-04T06:00","s":"D","L":1.80,"p":7.755,"O":95},{"t":"2020-04-04T18:00","s":"D","L":1.06,"p":7.734,"O":62},
{"t":"2020-04-05T06:00","s":"D","L":1.78,"p":7.757,"O":100},{"t":"2020-04-05T18:00","s":"D","L":1.02,"p":7.736,"O":70},
{"t":"2020-04-06T06:00","s":"D","L":1.77,"p":7.758,"O":98},{"t":"2020-04-06T18:00","s":"D","L":1.00,"p":7.737,"O":68},
{"t":"2020-04-07T06:00","s":"D","L":1.78,"p":7.759,"O":96},{"t":"2020-04-07T18:00","s":"D","L":0.98,"p":7.738,"O":66},
{"t":"2020-04-08T06:00","s":"D","L":1.77,"p":7.760,"O":94},{"t":"2020-04-08T18:00","s":"D","L":0.97,"p":7.739,"O":66},
{"t":"2020-04-09T06:00","s":"D","L":1.75,"p":7.760,"O":98},{"t":"2020-04-09T18:00","s":"D","L":0.98,"p":7.739,"O":66},
{"t":"2020-04-10T06:00","s":"D","L":1.72,"p":7.761,"O":100},{"t":"2020-04-10T18:00","s":"D","L":1.00,"p":7.740,"O":68},
{"t":"2020-04-11T06:00","s":"D","L":1.68,"p":7.761,"O":98},{"t":"2020-04-11T18:00","s":"D","L":1.00,"p":7.740,"O":70},
{"t":"2020-04-12T06:00","s":"D","L":1.62,"p":7.763,"O":100},{"t":"2020-04-12T18:00","s":"D","L":0.98,"p":7.742,"O":70},
{"t":"2020-04-13T06:00","s":"D","L":1.60,"p":7.766,"O":98},{"t":"2020-04-13T18:00","s":"D","L":0.96,"p":7.745,"O":68},
{"t":"2020-04-14T06:00","s":"D","L":1.62,"p":7.768,"O":96},{"t":"2020-04-14T18:00","s":"D","L":0.95,"p":7.747,"O":68},
{"t":"2020-04-15T06:00","s":"D","L":1.62,"p":7.770,"O":98},{"t":"2020-04-15T18:00","s":"D","L":0.94,"p":7.749,"O":66},
{"t":"2020-04-16T06:00","s":"D","L":1.60,"p":7.771,"O":96},{"t":"2020-04-16T18:00","s":"D","L":0.96,"p":7.750,"O":68},
{"t":"2020-04-17T06:00","s":"D","L":1.62,"p":7.769,"O":95},{"t":"2020-04-17T18:00","s":"D","L":1.00,"p":7.748,"O":66},
{"t":"2020-04-18T06:00","s":"D","L":1.64,"p":7.767,"O":96},{"t":"2020-04-18T18:00","s":"D","L":1.02,"p":7.746,"O":66},
{"t":"2020-04-19T06:00","s":"D","L":1.66,"p":7.765,"O":94},{"t":"2020-04-19T18:00","s":"D","L":1.04,"p":7.744,"O":66},
{"t":"2020-04-20T06:00","s":"D","L":1.70,"p":7.763,"O":96},{"t":"2020-04-20T18:00","s":"D","L":1.06,"p":7.742,"O":64},
{"t":"2020-04-21T06:00","s":"D","L":1.76,"p":7.759,"O":94},{"t":"2020-04-21T18:00","s":"D","L":1.06,"p":7.738,"O":62},
{"t":"2020-04-22T06:00","s":"D","L":1.82,"p":7.755,"O":92},{"t":"2020-04-22T18:00","s":"D","L":1.08,"p":7.734,"O":60},
{"t":"2020-04-23T06:00","s":"D","L":1.88,"p":7.752,"O":92},{"t":"2020-04-23T18:00","s":"D","L":1.10,"p":7.731,"O":58},
{"t":"2020-04-24T06:00","s":"D","L":1.92,"p":7.749,"O":90},{"t":"2020-04-24T18:00","s":"D","L":1.10,"p":7.728,"O":58},
{"t":"2020-04-25T06:00","s":"D","L":1.94,"p":7.748,"O":92},{"t":"2020-04-25T18:00","s":"D","L":1.10,"p":7.727,"O":56},
{"t":"2020-04-26T06:00","s":"D","L":1.93,"p":7.747,"O":90},{"t":"2020-04-26T18:00","s":"D","L":1.12,"p":7.726,"O":56},
{"t":"2020-04-27T06:00","s":"D","L":1.90,"p":7.747,"O":92},{"t":"2020-04-27T18:00","s":"D","L":1.12,"p":7.726,"O":54},
{"t":"2020-04-28T06:00","s":"D","L":1.86,"p":7.746,"O":94},{"t":"2020-04-28T18:00","s":"D","L":1.14,"p":7.725,"O":52},
{"t":"2020-04-29T06:00","s":"D","L":1.82,"p":7.746,"O":96},{"t":"2020-04-29T18:00","s":"D","L":1.15,"p":7.725,"O":50},
{"t":"2020-04-30T06:00","s":"D","L":1.80,"p":7.746,"O":98},{"t":"2020-04-30T18:00","s":"D","L":1.16,"p":7.725,"O":48},
{"t":"2020-05-01T06:00","s":"D","L":1.84,"p":7.747,"O":100},{"t":"2020-05-01T18:00","s":"D","L":1.15,"p":7.726,"O":46},
{"t":"2020-05-02T06:00","s":"D","L":1.88,"p":7.748,"O":104},{"t":"2020-05-02T18:00","s":"D","L":1.12,"p":7.727,"O":44},
{"t":"2020-05-03T06:00","s":"D","L":1.90,"p":7.749,"O":92},{"t":"2020-05-03T18:00","s":"D","L":1.10,"p":7.728,"O":42},
{"t":"2020-05-04T06:00","s":"D","L":1.92,"p":7.750,"O":105},{"t":"2020-05-04T18:00","s":"D","L":1.18,"p":7.729,"O":66},
{"t":"2020-05-05T06:00","s":"D","L":1.95,"p":7.751,"O":98},{"t":"2020-05-05T18:00","s":"D","L":1.18,"p":7.730,"O":64},
{"t":"2020-05-06T06:00","s":"D","L":1.97,"p":7.751,"O":95},{"t":"2020-05-06T18:00","s":"D","L":1.20,"p":7.730,"O":64},
{"t":"2020-05-07T06:00","s":"D","L":1.98,"p":7.752,"O":94},{"t":"2020-05-07T18:00","s":"D","L":1.20,"p":7.731,"O":64},
{"t":"2020-05-08T06:00","s":"D","L":1.96,"p":7.753,"O":96},{"t":"2020-05-08T18:00","s":"D","L":1.22,"p":7.732,"O":66},
{"t":"2020-05-09T06:00","s":"D","L":1.92,"p":7.753,"O":98},{"t":"2020-05-09T18:00","s":"D","L":1.24,"p":7.732,"O":68},
{"t":"2020-05-10T06:00","s":"D","L":1.88,"p":7.755,"O":92},{"t":"2020-05-10T18:00","s":"D","L":1.26,"p":7.734,"O":64},
{"t":"2020-05-11T06:00","s":"D","L":1.85,"p":7.757,"O":86},{"t":"2020-05-11T18:00","s":"D","L":1.28,"p":7.736,"O":58},
{"t":"2020-05-12T06:00","s":"D","L":1.84,"p":7.760,"O":84},{"t":"2020-05-12T18:00","s":"D","L":1.30,"p":7.739,"O":58},
{"t":"2020-05-13T06:00","s":"D","L":1.86,"p":7.762,"O":86},{"t":"2020-05-13T18:00","s":"D","L":1.32,"p":7.741,"O":58},
{"t":"2020-05-14T06:00","s":"D","L":1.88,"p":7.765,"O":84},{"t":"2020-05-14T18:00","s":"D","L":1.30,"p":7.744,"O":56},
{"t":"2020-05-15T06:00","s":"D","L":1.92,"p":7.768,"O":80},{"t":"2020-05-15T18:00","s":"D","L":1.28,"p":7.747,"O":54},
{"t":"2020-05-16T06:00","s":"D","L":1.96,"p":7.771,"O":80},{"t":"2020-05-16T18:00","s":"D","L":1.27,"p":7.750,"O":52},
{"t":"2020-05-17T06:00","s":"D","L":2.00,"p":7.770,"O":82},{"t":"2020-05-17T18:00","s":"D","L":1.26,"p":7.749,"O":54},
{"t":"2020-05-18T06:00","s":"D","L":2.03,"p":7.768,"O":82},{"t":"2020-05-18T18:00","s":"D","L":1.26,"p":7.747,"O":54},
{"t":"2020-05-19T06:00","s":"D","L":2.06,"p":7.763,"O":80},{"t":"2020-05-19T18:00","s":"D","L":1.26,"p":7.742,"O":54},
{"t":"2020-05-20T06:00","s":"D","L":2.08,"p":7.759,"O":78},{"t":"2020-05-20T18:00","s":"D","L":1.27,"p":7.738,"O":52},
{"t":"2020-05-21T06:00","s":"D","L":2.07,"p":7.761,"O":76},{"t":"2020-05-21T18:00","s":"D","L":1.28,"p":7.740,"O":50},
{"t":"2020-05-22T06:00","s":"D","L":2.04,"p":7.764,"O":78},{"t":"2020-05-22T18:00","s":"D","L":1.30,"p":7.743,"O":50},
{"t":"2020-05-23T06:00","s":"D","L":2.00,"p":7.766,"O":80},{"t":"2020-05-23T18:00","s":"D","L":1.32,"p":7.745,"O":52},
{"t":"2020-05-24T06:00","s":"D","L":1.98,"p":7.763,"O":78},{"t":"2020-05-24T18:00","s":"D","L":1.34,"p":7.742,"O":52},
{"t":"2020-05-25T06:00","s":"D","L":2.00,"p":7.759,"O":76},{"t":"2020-05-25T18:00","s":"D","L":1.33,"p":7.738,"O":50},
{"t":"2020-05-26T06:00","s":"D","L":2.04,"p":7.753,"O":76},{"t":"2020-05-26T18:00","s":"D","L":1.30,"p":7.732,"O":50},
{"t":"2020-05-27T06:00","s":"D","L":2.07,"p":7.749,"O":74},{"t":"2020-05-27T18:00","s":"D","L":1.28,"p":7.728,"O":48},
{"t":"2020-05-28T06:00","s":"D","L":2.08,"p":7.748,"O":74},{"t":"2020-05-28T18:00","s":"D","L":1.28,"p":7.727,"O":48},
{"t":"2020-05-29T06:00","s":"D","L":2.07,"p":7.747,"O":76},{"t":"2020-05-29T18:00","s":"D","L":1.30,"p":7.726,"O":50},
{"t":"2020-05-30T06:00","s":"D","L":2.05,"p":7.747,"O":80},{"t":"2020-05-30T18:00","s":"D","L":1.32,"p":7.726,"O":52},
{"t":"2020-05-31T06:00","s":"D","L":2.03,"p":7.746,"O":82},{"t":"2020-05-31T18:00","s":"D","L":1.34,"p":7.725,"O":56},
{"t":"2020-06-01T06:00","s":"D","L":2.05,"p":7.746,"O":80},{"t":"2020-06-01T18:00","s":"D","L":1.36,"p":7.725,"O":56},
{"t":"2020-06-02T06:00","s":"D","L":2.08,"p":7.747,"O":82},{"t":"2020-06-02T18:00","s":"D","L":1.38,"p":7.726,"O":56},
{"t":"2020-06-03T06:00","s":"D","L":2.12,"p":7.746,"O":80},{"t":"2020-06-03T18:00","s":"D","L":1.40,"p":7.725,"O":58},
{"t":"2020-06-04T00:00","s":"D","L":2.10},{"t":"2020-06-04T02:00","s":"D","L":1.33,"p":7.734,"O":58}
]
},
"vconcat":[
{"width":880,"height":78,
 "layer":[
  {"data":{"name":"ev"},"mark":{"type":"rule","color":"#e8603c","strokeDash":[2,2],"strokeWidth":1},
   "encoding":{"x":{"field":"t","type":"temporal","scale":{"domain":[{"year":2019,"month":11,"date":17},{"year":2020,"month":6,"date":9}]},"axis":null}}},
  {"data":{"name":"raw"},"mark":{"type":"line","color":"#2b7cc0","strokeWidth":1},
   "encoding":{"x":{"field":"t","type":"temporal","axis":{"orient":"bottom","labels":false,"title":null,"values":[{"year":2019,"month":12,"date":1},{"year":2020,"month":1,"date":1},{"year":2020,"month":2,"date":1},{"year":2020,"month":3,"date":1},{"year":2020,"month":4,"date":1},{"year":2020,"month":5,"date":1},{"year":2020,"month":6,"date":1}]}},
    "y":{"field":"L","type":"quantitative","scale":{"domain":[0.2,2.56],"nice":false,"zero":false},"axis":{"orient":"left","values":[0.8,1.6,2.4],"format":".1f","title":["Lₐ","[m]"]}},
    "detail":{"field":"s"}}},
  {"data":{"name":"sm"},"mark":{"type":"line","color":"#000000","strokeWidth":2.5},
   "encoding":{"x":{"field":"t","type":"temporal","axis":{"orient":"top","labels":false,"title":null,"values":[{"year":2019,"month":12,"date":1},{"year":2020,"month":1,"date":1},{"year":2020,"month":2,"date":1},{"year":2020,"month":3,"date":1},{"year":2020,"month":4,"date":1},{"year":2020,"month":5,"date":1},{"year":2020,"month":6,"date":1}]}},
    "y":{"field":"L","type":"quantitative","axis":{"orient":"right","labels":false,"title":null,"values":[0.8,1.6,2.4]}},
    "detail":{"field":"s"}}}
 ],
 "resolve":{"axis":{"x":"independent","y":"independent"}}},
{"width":880,"height":63,
 "layer":[
  {"data":{"name":"ev"},"mark":{"type":"rule","color":"#e8603c","strokeDash":[2,2],"strokeWidth":1},
   "encoding":{"x":{"field":"t","type":"temporal","scale":{"domain":[{"year":2019,"month":11,"date":17},{"year":2020,"month":6,"date":9}]},"axis":null}}},
  {"data":{"name":"sm"},"mark":{"type":"line","color":"#2b7cc0","strokeWidth":1.5},
   "encoding":{"x":{"field":"t","type":"temporal","axis":{"orient":"bottom","labels":false,"title":null,"values":[{"year":2019,"month":12,"date":1},{"year":2020,"month":1,"date":1},{"year":2020,"month":2,"date":1},{"year":2020,"month":3,"date":1},{"year":2020,"month":4,"date":1},{"year":2020,"month":5,"date":1},{"year":2020,"month":6,"date":1}]}},
    "y":{"field":"T","type":"quantitative","scale":{"domain":[7.2,37.2],"nice":false,"zero":false},"axis":{"orient":"left","values":[15,25,35],"title":["Tₐ","[ºC]"]}},
    "detail":{"field":"s"}}},
  {"data":{"name":"sm"},"mark":{"type":"line","color":"#000000","strokeWidth":2.5},
   "encoding":{"x":{"field":"t","type":"temporal","axis":{"orient":"top","labels":false,"title":null,"values":[{"year":2019,"month":12,"date":1},{"year":2020,"month":1,"date":1},{"year":2020,"month":2,"date":1},{"year":2020,"month":3,"date":1},{"year":2020,"month":4,"date":1},{"year":2020,"month":5,"date":1},{"year":2020,"month":6,"date":1}]}},
    "y":{"field":"T","type":"quantitative","axis":{"orient":"right","labels":false,"title":null,"values":[15,25,35]}},
    "detail":{"field":"s"}}}
 ],
 "resolve":{"axis":{"x":"independent","y":"independent"}}},
{"width":880,"height":76,
 "layer":[
  {"data":{"name":"ev"},"mark":{"type":"rule","color":"#e8603c","strokeDash":[2,2],"strokeWidth":1},
   "encoding":{"x":{"field":"t","type":"temporal","scale":{"domain":[{"year":2019,"month":11,"date":17},{"year":2020,"month":6,"date":9}]},"axis":null}}},
  {"data":{"name":"raw"},"mark":{"type":"line","color":"#2b7cc0","strokeWidth":1},
   "encoding":{"x":{"field":"t","type":"temporal","axis":{"orient":"bottom","labels":false,"title":null,"values":[{"year":2019,"month":12,"date":1},{"year":2020,"month":1,"date":1},{"year":2020,"month":2,"date":1},{"year":2020,"month":3,"date":1},{"year":2020,"month":4,"date":1},{"year":2020,"month":5,"date":1},{"year":2020,"month":6,"date":1}]}},
    "y":{"field":"p","type":"quantitative","scale":{"domain":[7.616,7.814],"nice":false,"zero":false},"axis":{"orient":"left","values":[7.65,7.7,7.75,7.8],"labelExpr":"datum.value > 7.79 ? '7-8' : format(datum.value, '.3~f')","title":["pH","[-]"]}},
    "detail":{"field":"s"}}},
  {"data":{"name":"sm"},"mark":{"type":"line","color":"#000000","strokeWidth":2.5},
   "encoding":{"x":{"field":"t","type":"temporal","axis":{"orient":"top","labels":false,"title":null,"values":[{"year":2019,"month":12,"date":1},{"year":2020,"month":1,"date":1},{"year":2020,"month":2,"date":1},{"year":2020,"month":3,"date":1},{"year":2020,"month":4,"date":1},{"year":2020,"month":5,"date":1},{"year":2020,"month":6,"date":1}]}},
    "y":{"field":"p","type":"quantitative","axis":{"orient":"right","labels":false,"title":null,"values":[7.65,7.7,7.75,7.8]}},
    "detail":{"field":"s"}}}
 ],
 "resolve":{"axis":{"x":"independent","y":"independent"}}},
{"width":880,"height":75,
 "layer":[
  {"data":{"name":"ev"},"mark":{"type":"rule","color":"#e8603c","strokeDash":[2,2],"strokeWidth":1},
   "encoding":{"x":{"field":"t","type":"temporal","scale":{"domain":[{"year":2019,"month":11,"date":17},{"year":2020,"month":6,"date":9}]},"axis":null}}},
  {"data":{"name":"sm"},"mark":{"type":"line","color":"#2b7cc0","strokeWidth":1.5},
   "encoding":{"x":{"field":"t","type":"temporal","axis":{"orient":"bottom","labels":false,"title":null,"values":[{"year":2019,"month":12,"date":1},{"year":2020,"month":1,"date":1},{"year":2020,"month":2,"date":1},{"year":2020,"month":3,"date":1},{"year":2020,"month":4,"date":1},{"year":2020,"month":5,"date":1},{"year":2020,"month":6,"date":1}]}},
    "y":{"field":"S","type":"quantitative","scale":{"domain":[16.6,35.77],"nice":false,"zero":false},"axis":{"orient":"left","values":[20,25,30,35],"labelExpr":"datum.value == 20 ? '18' : datum.label","title":["SAL","[PSU]"]}},
    "detail":{"field":"s"}}},
  {"data":{"name":"sm"},"mark":{"type":"line","color":"#000000","strokeWidth":2.5},
   "encoding":{"x":{"field":"t","type":"temporal","axis":{"orient":"top","labels":false,"title":null,"values":[{"year":2019,"month":12,"date":1},{"year":2020,"month":1,"date":1},{"year":2020,"month":2,"date":1},{"year":2020,"month":3,"date":1},{"year":2020,"month":4,"date":1},{"year":2020,"month":5,"date":1},{"year":2020,"month":6,"date":1}]}},
    "y":{"field":"S","type":"quantitative","axis":{"orient":"right","labels":false,"title":null,"values":[20,25,30,35]}},
    "detail":{"field":"s"}}}
 ],
 "resolve":{"axis":{"x":"independent","y":"independent"}}},
{"width":880,"height":75,
 "layer":[
  {"data":{"name":"ev"},"mark":{"type":"rule","color":"#e8603c","strokeDash":[2,2],"strokeWidth":1},
   "encoding":{"x":{"field":"t","type":"temporal","scale":{"domain":[{"year":2019,"month":11,"date":17},{"year":2020,"month":6,"date":9}]},"axis":null}}},
  {"data":{"name":"raw"},"mark":{"type":"line","color":"#2b7cc0","strokeWidth":1},
   "encoding":{"x":{"field":"t","type":"temporal","axis":{"orient":"bottom","format":"%m/%d/%y","title":null,"labelPadding":10,"values":[{"year":2019,"month":12,"date":1},{"year":2020,"month":1,"date":1},{"year":2020,"month":2,"date":1},{"year":2020,"month":3,"date":1},{"year":2020,"month":4,"date":1},{"year":2020,"month":5,"date":1},{"year":2020,"month":6,"date":1}]}},
    "y":{"field":"O","type":"quantitative","scale":{"domain":[0.2,111.9],"nice":false,"zero":false},"axis":{"orient":"left","values":[30,60,90],"title":["%OD","[%]"]}},
    "detail":{"field":"s"}}},
  {"data":{"name":"sm"},"mark":{"type":"line","color":"#000000","strokeWidth":2.5},
   "encoding":{"x":{"field":"t","type":"temporal","axis":{"orient":"top","labels":false,"title":null,"values":[{"year":2019,"month":12,"date":1},{"year":2020,"month":1,"date":1},{"year":2020,"month":2,"date":1},{"year":2020,"month":3,"date":1},{"year":2020,"month":4,"date":1},{"year":2020,"month":5,"date":1},{"year":2020,"month":6,"date":1}]}},
    "y":{"field":"O","type":"quantitative","axis":{"orient":"right","labels":false,"title":null,"values":[30,60,90]}},
    "detail":{"field":"s"}}}
 ],
 "resolve":{"axis":{"x":"independent","y":"independent"}}}
]
}
